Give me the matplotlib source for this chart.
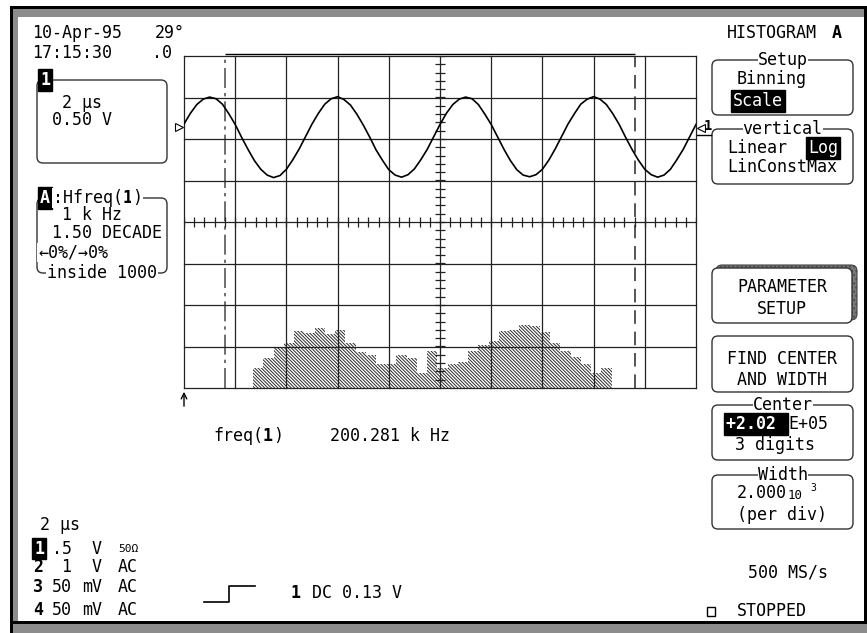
import matplotlib
matplotlib.use("Agg")
import matplotlib.pyplot as plt
import numpy as np
from matplotlib.patches import FancyBboxPatch, Rectangle

# 通道1波形 (2 us/div, 纵向单位: 格)
trace_t = np.linspace(-10, 10, 81)
trace_v = [2.36, 2.62, 2.83, 2.96, 3.01, 2.97, 2.84, 2.61, 2.35, 2.04,
           1.75, 1.48, 1.27, 1.13, 1.07, 1.12, 1.27, 1.50, 1.76, 2.06,
           2.36, 2.62, 2.84, 2.97, 3.02, 2.95, 2.82, 2.60, 2.34, 2.05,
           1.74, 1.49, 1.26, 1.13, 1.08, 1.14, 1.28, 1.50, 1.75, 2.05,
           2.35, 2.62, 2.83, 2.96, 3.01, 2.97, 2.83, 2.60, 2.35, 2.05,
           1.75, 1.48, 1.26, 1.13, 1.09, 1.14, 1.27, 1.49, 1.76, 2.06,
           2.36, 2.61, 2.84, 2.96, 3.02, 2.96, 2.83, 2.61, 2.35, 2.04,
           1.75, 1.49, 1.27, 1.14, 1.08, 1.13, 1.27, 1.50, 1.75, 2.05,
           2.35]

# freq(1) 直方图: 中心 202 kHz, 2 kHz/div, 高度单位: 格 (对数显示)
hist_start = 194.7
hist_bin = 0.4
hist_h = [0.49, 0.73, 0.97, 1.09, 1.37, 1.33, 1.45, 1.29, 1.39, 1.09,
          0.87, 0.80, 0.57, 0.57, 0.80, 0.73, 0.36, 0.89, 0.48, 0.58,
          0.63, 0.89, 1.04, 1.13, 1.37, 1.39, 1.53, 1.49, 1.35, 1.09,
          0.89, 0.75, 0.57, 0.36, 0.48]
cursor_lo = 193.6
cursor_hi = 209.6

MONO = ['DejaVu Sans Mono', 'DejaVu Sans']
FS = 12
plt.rcParams['hatch.linewidth'] = 0.7

W, H = 867, 633
fig = plt.figure(figsize=(W / 100, H / 100), dpi=100)
fig.patch.set_facecolor('white')

# 像素坐标覆盖层
ov = fig.add_axes([0, 0, 1, 1])
ov.set_xlim(0, W)
ov.set_ylim(H, 0)
ov.axis('off')

# 窗口边框
ov.add_patch(Rectangle((10, 6), W - 10, 3, color='black', lw=0))
ov.add_patch(Rectangle((13, 9), W - 13, 8, color='#8c8c8c', lw=0))
ov.add_patch(Rectangle((10, 6), 3, H - 6, color='black', lw=0))
ov.add_patch(Rectangle((13, 9), 5, H - 9, color='#8c8c8c', lw=0))
ov.add_patch(Rectangle((13, 621), W - 13, 3, color='black', lw=0))
ov.add_patch(Rectangle((13, 624), W - 13, 9, color='#8c8c8c', lw=0))
ov.add_patch(Rectangle((864, 6), 3, 618, color='black', lw=0))


def T(x, y, s, ha='left', **kw):
    kw.setdefault('fontsize', FS)
    ov.text(x, y, s, ha=ha, va='center', family=MONO, color='black', **kw)


def inv(x, y, s, **kw):
    kw.setdefault('fontsize', FS)
    ov.text(x, y, s, ha='left', va='center', family=MONO, color='white',
            bbox=dict(fc='black', ec='black', pad=1.2), **kw)


def box(x0, y0, x1, y1, title=None):
    ov.add_patch(FancyBboxPatch((x0, y0), x1 - x0, y1 - y0,
                                boxstyle='round,pad=0,rounding_size=6',
                                fc='white', ec='#333', lw=1.0))
    if title:
        ov.text((x0 + x1) / 2, y0, title, ha='center', va='center',
                family=MONO, fontsize=FS,
                bbox=dict(fc='white', ec='none', pad=0))


WB = dict(fc='white', ec='none', pad=0.5)

# 左上: 日期时间
T(32, 32.5, '10-Apr-95')
T(155, 32.5, '29°')
T(32, 52.5, '17:15:30')
T(152, 52.5, '.0')

# 通道1框
box(37, 80, 167, 163)
inv(40, 80, '1', fontweight='bold')
T(62, 103, '2 µs')
T(52, 120, '0.50 V')

# 直方图 A 框
box(37, 198, 167, 273)
inv(40, 198, 'A', fontweight='bold')
T(53, 198, ':Hfreq(', bbox=WB)
T(122, 198, '1', fontweight='bold', bbox=WB)
T(132, 198, ')', bbox=WB)
T(62, 215, '1 k Hz')
T(52, 232.5, '1.50 DECADE')
T(38, 252.5, '←0%/→0%', bbox=WB)
T(47, 273, 'inside 1000', bbox=WB)

# 右侧菜单
T(727, 33, 'HISTOGRAM')
T(832, 33, 'A', fontweight='bold')
box(712, 60, 853, 115, 'Setup')
T(737, 78.5, 'Binning')
inv(733, 101, 'Scale')
box(712, 129, 853, 184, 'vertical')
T(727, 148, 'Linear')
inv(808, 148, 'Log')
T(727, 167, 'LinConstMax')

ov.add_patch(FancyBboxPatch((716, 265), 141, 55, boxstyle='round,pad=0,rounding_size=6',
                            fc='#777', ec='#444', lw=0.8, hatch='....'))
box(712, 268, 852, 323)
T(782, 287.5, 'PARAMETER', ha='center')
T(782, 308.5, 'SETUP', ha='center')
box(712, 336, 853, 392)
T(782, 359.5, 'FIND CENTER', ha='center')
T(782, 380, 'AND WIDTH', ha='center')
box(712, 405, 853, 460, 'Center')
inv(726, 424, '+2.02 ', fontweight='bold')
T(788, 424, 'E+05')
T(735, 445.5, '3 digits')
box(712, 475, 853, 529, 'Width')
T(737, 493.5, '2.000')
T(788, 495.5, '10', fontsize=9)
T(810, 488, '3', fontsize=7)
T(737, 515.5, '(per div)')
T(748, 572.5, '500 MS/s')
ov.add_patch(Rectangle((707, 607), 8, 9, fc='white', ec='black', lw=1))
T(737, 611, 'STOPPED')

# 左下: 通道设置
T(40, 525, '2 µs')
inv(34, 548.5, '1', fontweight='bold')
T(52, 548.5, '.5')
T(92, 548.5, 'V')
T(118, 548.5, '50Ω', fontsize=8)
rows = [('2', ' 1', 'V', 567), ('3', '50', 'mV', 587.5), ('4', '50', 'mV', 610)]
for ch, val, unit, y in rows:
    T(33, y, ch, fontweight='bold')
    T(52, y, val)
    T(102 - 10 * len(unit), y, unit)
    T(118, y, 'AC')

# 触发符号与读数
ov.plot([204, 229, 229, 255], [602, 602, 586, 586], color='black', lw=1.2)
T(290, 592.5, '1', fontweight='bold')
T(312, 592.5, 'DC 0.13 V')
T(213, 436, 'freq(')
T(263, 436, '1', fontweight='bold')
T(273, 436, ')')
T(330, 436, '200.281 k Hz')

# 栅格
gx0, gx1, gy0, gy1 = 184, 696, 56, 388
rect = [gx0 / W, 1 - gy1 / H, (gx1 - gx0) / W, (gy1 - gy0) / H]

axh = fig.add_axes(rect)
axh.patch.set_alpha(0)
axh.set_xlim(192, 212)
axh.set_ylim(-4, 4)
axh.axis('off')
edges = hist_start + hist_bin * np.arange(len(hist_h))
axh.bar(edges, hist_h, width=hist_bin, bottom=-4, align='edge',
        color='white', edgecolor='#2a2a2a', lw=0, hatch='\\' * 10)
axh.axvline(cursor_lo, color='#555', lw=1.2, ls=(0, (12, 3, 2, 3)))
axh.axvline(cursor_hi, color='#555', lw=1.4, ls=(0, (7, 4)))
axh.hlines(4.05, cursor_lo, cursor_hi, color='black', lw=1.0, clip_on=False)

ax = fig.add_axes(rect)
ax.patch.set_alpha(0)
ax.set_xlim(-10, 10)
ax.set_ylim(-4, 4)
ax.axis('off')
for x in np.arange(-10, 10.1, 2):
    ax.axvline(x, color='#222', lw=0.9, clip_on=False)
for y in range(-4, 5):
    ax.axhline(y, color='#222', lw=0.9, clip_on=False)
ax.vlines(np.arange(-10, 10.01, 0.4), -0.12, 0.12, color='#222', lw=0.9)
ax.hlines(np.arange(-4, 4.01, 0.2), -0.2, 0.2, color='#222', lw=0.9)

ax.plot(trace_t, trace_v, color='black', lw=1.2)
ax.plot(-10.2, 2.28, marker='>', mfc='white', mec='black', ms=6, mew=0.8, clip_on=False)
ax.plot(10.2, 2.27, marker='<', mfc='white', mec='black', ms=6, mew=0.8, clip_on=False)
T(704, 126, '1', fontsize=10, fontweight='bold')
ov.plot([697, 711], [135, 135], color='black', lw=1)
ov.annotate('', xy=(184, 389), xytext=(184, 409),
            arrowprops=dict(arrowstyle='->', lw=1, color='black'))

fig.savefig('out.png', dpi=100)
